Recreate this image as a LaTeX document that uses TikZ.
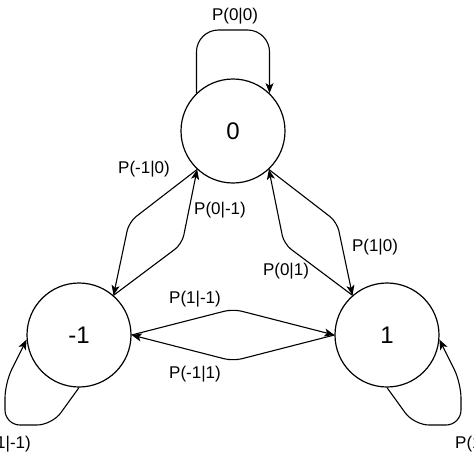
\documentclass[tikz,border=0pt]{standalone}
\usepackage{fontspec}
\setmainfont{Liberation Sans}
\usetikzlibrary{arrows.meta}

\begin{document}
\begin{tikzpicture}[
            x=1pt, y=-1pt,
            state/.style={circle, draw, line width=1.2pt, minimum size=104pt, inner sep=0pt, font=\fontsize{24}{28}\selectfont},
            prob/.style={inner sep=0pt, font=\fontsize{17}{20}\selectfont},
            trans/.style={line width=1.1pt, rounded corners=9pt, -{Stealth[length=10pt, width=8pt, inset=2.5pt]}},
            selfloop/.style={trans, rounded corners=15pt}
        ]
            \useasboundingbox (0,0) rectangle (474,474);
            % states
            \node[state] (s0) at (233,131) {0};
            \node[state] (sm1) at (79,335) {-1};
            \node[state] (s1) at (387,335) {1};
            % self loops
            \coordinate (top0) at (233,30);
            \draw[selfloop, rounded corners=22pt] (s0.134) -- (s0.134 |- top0) -- (s0.46 |- top0) -- (s0.46);
            \draw[selfloop] (sm1.270) -- (52,425) -- (5,425) -- (5,383) -- (sm1.185);
            \draw[selfloop] (s1.270) -- (414,425) -- (461,425) -- (461,383) -- (s1.355);
            % between 0 and -1
            \draw[trans] (s0.227) -- (129,222) -- (sm1.49);
            \draw[trans] (sm1.49) -- (182,244) -- (s0.227);
            % between 0 and 1
            \draw[trans] (s0.313) -- (337,222) -- (s1.131);
            \draw[trans] (s1.131) -- (284,244) -- (s0.313);
            % between -1 and 1
            \draw[trans] (sm1.0) -- (233,309) -- (s1.180);
            \draw[trans] (s1.180) -- (233,361) -- (sm1.0);
            % labels
            \node[prob] (p00) at (235,16) {P(0|0)};
            \node[prob] (pm10) at (144,169) {P(-1|0)};
            \node[prob] (p0m1) at (220,210) {P(0|-1)};
            \node[prob] (p10) at (375,247) {P(1|0)};
            \node[prob] (p01) at (286,271) {P(0|1)};
            \node[prob] (p1m1) at (195,299) {P(1|-1)};
            \node[prob] (pm11) at (195,374) {P(-1|1)};
            \node[prob, anchor=east] (pm1m1) at (31,444) {P(-1|-1)};
            \node[prob, anchor=west] (p11) at (455,444) {P(1|1)};
        \end{tikzpicture}
\end{document}
